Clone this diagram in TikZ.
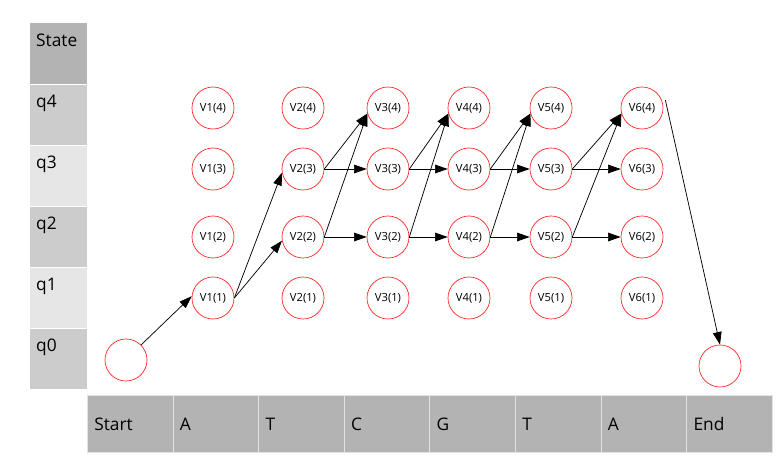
\documentclass[tikz,border=0pt]{standalone}
\usepackage{fontspec}
\setmainfont{Open Sans}
\usetikzlibrary{arrows.meta}
\definecolor{hmmdark}{HTML}{B3B3B3}
\definecolor{hmmmid}{HTML}{CCCCCC}
\definecolor{hmmlight}{HTML}{E6E6E6}
\definecolor{hmmline}{HTML}{E2E2E2}
\definecolor{hmmred}{HTML}{FF2020}

\begin{document}
\begin{tikzpicture}[
  x=0.75pt,y=-0.75pt,
  >={Triangle[length=9.5pt,width=6.5pt]},
  rowcell/.style={draw=white,line width=0.6pt,anchor=north west,minimum width=43.5pt,
                  minimum height=45.75pt,inner sep=0pt},
  rowtext/.style={anchor=north west,inner xsep=5.2pt,inner ysep=8.5pt,font=\fontsize{13}{15}\selectfont},
  seqcell/.style={draw=hmmline,fill=hmmdark,line width=0.6pt,anchor=north west,minimum width=64.2pt,
                  minimum height=42.75pt,text width=54pt,align=left,inner xsep=5.2pt,
                  font=\fontsize{13}{15}\selectfont},
  state/.style={circle,draw=hmmred,line width=0.5pt,minimum size=31.5pt,inner sep=0pt,
                font=\fontsize{8.4}{10}\selectfont},
  edge/.style={->,line width=0.55pt}
]
  \useasboundingbox (0,0) rectangle (780,460);

  % state column on the left
  \foreach \n/\c [count=\k from 0] in {State/hmmdark,q4/hmmmid,q3/hmmlight,q2/hmmmid,q1/hmmlight,q0/hmmmid}
    \node[rowcell,fill=\c,label={[rowtext]north west:\n}] (row\k) at (29,22.5+61*\k) {};

  % observed sequence at the bottom
  \foreach \t [count=\k from 0] in {Start,A,T,C,G,T,A,End}
    \node[seqcell] (seq\k) at (87+\k*85.6,395) {\t};

  % trellis
  \foreach \i/\x in {1/213,2/303,3/388,4/469,5/551,6/642}
    \foreach \r/\y in {4/108,3/169,2/237,1/298}
      \node[state] (v\i\r) at (\x,\y) {V\i(\r)};
  \node[state] (init) at (126,360) {};
  \node[state] (final) at (720,366) {};

  \draw[edge] (init.45) -- (v11.175);
  \draw[edge] (v11.east) -- (v23.190);
  \draw[edge] (v11.east) -- (v22.190);
  \foreach \i/\j in {2/3,3/4,4/5,5/6}
    \foreach \r in {3,2} {
      \draw[edge] (v\i\r.east) -- (v\j4.195);
      \draw[edge] (v\i\r.east) -- (v\j\r);
    }
  \draw[edge] ([xshift=1.5pt,yshift=6pt]v64.east) -- (final.north);
\end{tikzpicture}
\end{document}
